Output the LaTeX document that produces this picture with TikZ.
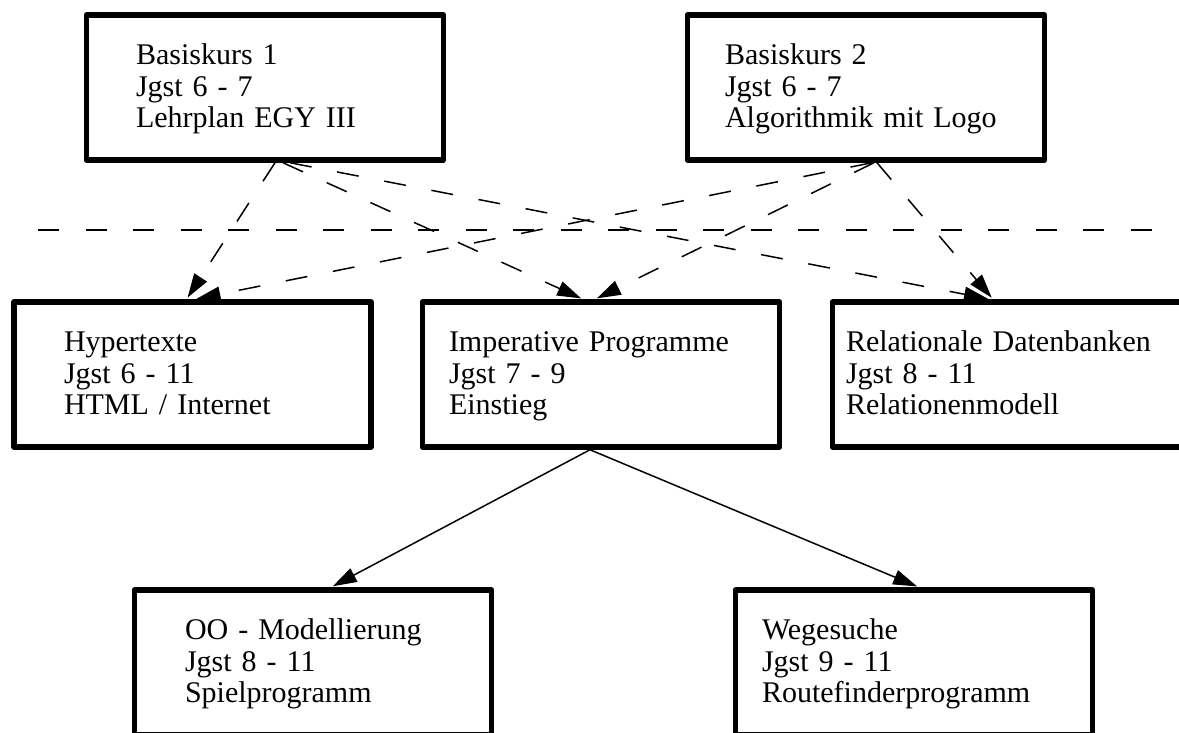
\documentclass[tikz,border=0pt]{standalone}
\usepackage{fontspec}
\setmainfont{Liberation Serif}
\usetikzlibrary{arrows.meta}
\begin{document}
\begin{tikzpicture}[x=1pt,y=-1pt,
  box/.style={draw, line width=5.5pt, line join=round, minimum width=357pt, minimum height=145pt,
    inner sep=0pt, align=left, text height=20pt, text depth=66pt,
    font=\fontsize{30pt}{31.7pt}\selectfont},
  darr/.style={line width=1.5pt, dash pattern=on 22pt off 26pt, -{Triangle[length=24pt,width=15pt]}, shorten >=2pt},
  sarr/.style={line width=1.5pt, -{Triangle[length=24pt,width=15pt]}, shorten >=2pt},
  sepline/.style={line width=1.5pt, dash pattern=on 21pt off 26.5pt}]
\useasboundingbox (0,0) rectangle (1179,733);
\fill[white] (0,0) rectangle (1179,733);
% top row
\node[box, text width=258pt] (b1) at (265,87.5) {Basiskurs 1\\Jgst 6 - 7\\Lehrplan EGY III};
\node[box, text width=282pt] (b2) at (866,87.5) {Basiskurs 2\\Jgst 6 - 7\\Algorithmik mit Logo};
% middle row
\node[box, text width=257pt] (hyp) at (192.5,374.5) {Hypertexte\\Jgst 6 - 11\\HTML / Internet};
\node[box, text width=304pt] (imp) at (601,374.5) {Imperative Programme\\Jgst 7 - 9\\Einstieg};
\node[box, text width=330pt] (rel) at (1011,374.5) {Relationale Datenbanken\\Jgst 8 - 11\\Relationenmodell};
% bottom row
\node[box, text width=256pt] (oo) at (313,662.5) {OO - Modellierung\\Jgst 8 - 11\\Spielprogramm};
\node[box, text width=304pt] (weg) at (914,662.5) {Wegesuche\\Jgst 9 - 11\\Routefinderprogramm};
% separator
\coordinate (sepL) at (38,230);
\coordinate (sepR) at (1166,230);
\draw[sepline] (sepL) -- (sepR);
% dashed arrows
\draw[darr] ([xshift=10pt]b1.south) -- ([xshift=-6pt]hyp.north);
\draw[darr] ([xshift=18pt]b1.south) -- ([xshift=-18pt]imp.north);
\draw[darr] ([xshift=25pt]b1.south) -- ([xshift=-21pt]rel.north);
\draw[darr] ([xshift=6pt]b2.south) -- ([xshift=2pt]hyp.north);
\draw[darr] ([xshift=8pt]b2.south) -- ([xshift=-6pt]imp.north);
\draw[darr] ([xshift=11pt]b2.south) -- ([xshift=-18pt]rel.north);
% solid arrows
\draw[sarr] ([xshift=-11pt]imp.south) -- ([xshift=18pt]oo.north);
\draw[sarr] ([xshift=-11pt]imp.south) -- ([xshift=5pt]weg.north);
\end{tikzpicture}
\end{document}
